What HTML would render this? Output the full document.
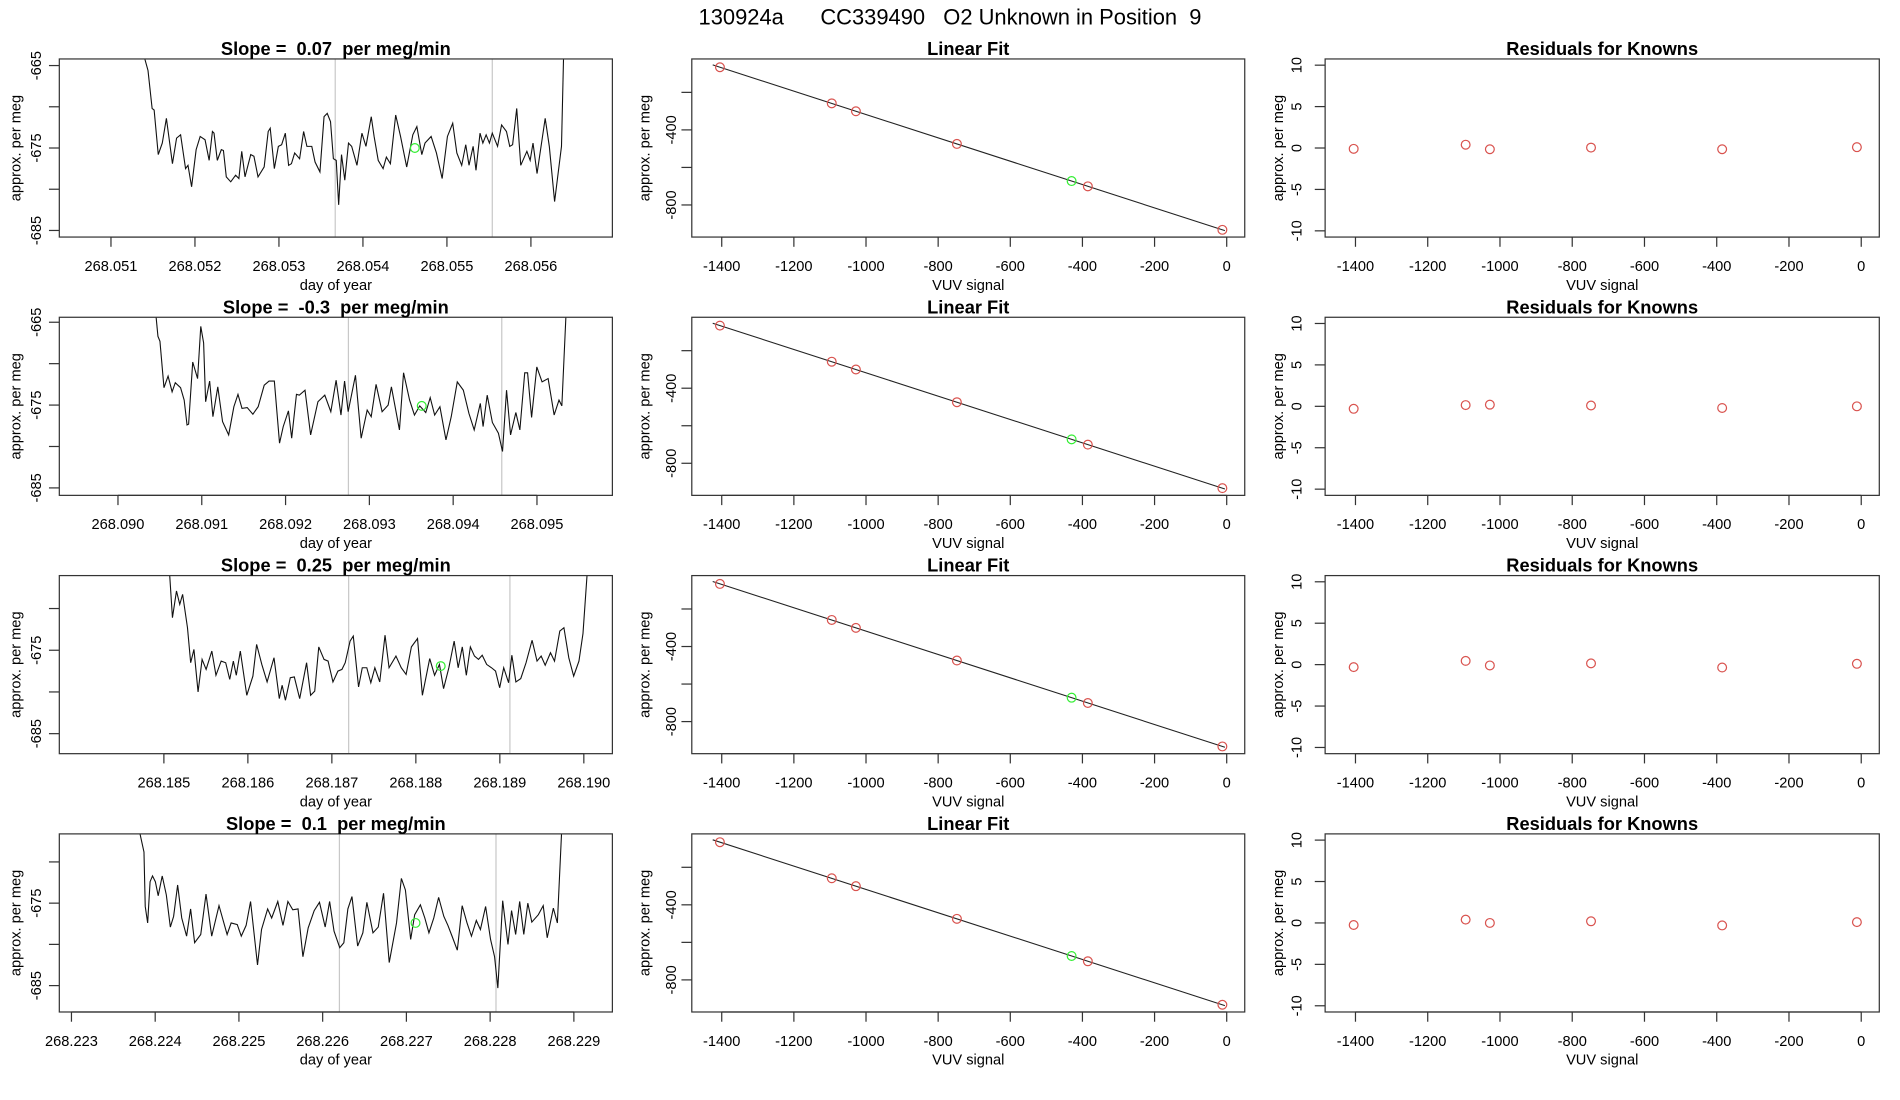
<!DOCTYPE html>
<html><head><meta charset="utf-8"><style>
html,body{margin:0;padding:0;background:#fff;}
svg{display:block;font-family:"Liberation Sans",Arial,sans-serif;}
svg text{white-space:pre;}
</style></head><body>
<svg id="chart" width="1900" height="1100" viewBox="0 0 1560 903" preserveAspectRatio="none" xmlns="http://www.w3.org/2000/svg">
<rect x="0" y="0" width="1560" height="903" fill="#fff"/>
<text x="780" y="20" font-size="18" text-anchor="middle" xml:space="preserve" style="white-space:pre">130924a      CC339490   O2 Unknown in Position  9</text>
</svg>
<script>
// ---------- data ----------
const slopeLabels = ["0.07", "-0.3", "0.25", "0.1"];
const dayBases = [268.051, 268.090, 268.185, 268.223];
const dayTickLabels = [
  ["268.051","268.052","268.053","268.054","268.055","268.056"],
  ["268.090","268.091","268.092","268.093","268.094","268.095"],
  ["268.185","268.186","268.187","268.188","268.189","268.190"],
  ["268.223","268.224","268.225","268.226","268.227","268.228","268.229"]
];
// time offsets in micro-days from dayBases
const t1 = [369,403,441,490,514,563,611,660,732,781,829,888,917,960,1014,1062,1120,1169,1208,1227,1266,1314,1339,1373,1426,1484,1523,1557,1596,1664,1702,1751,1824,1872,1896,1945,1993,2032,2076,2115,2149,2187,2246,2294,2333,2391,2430,2488,2537,2575,2614,2648,2682,2711,2745,2784,2828,2866,2929,2988,3036,3099,3133,3182,3240,3279,3327,3390,3448,3521,3594,3642,3701,3739,3812,3875,3943,4006,4069,4118,4176,4224,4263,4312,4346,4394,4428,4467,4506,4540,4603,4651,4709,4748,4782,4831,4879,4952,4991,5025,5073,5170,5219,5282,5364,5388,5403];
const v1 = [-660,-664.2,-665.6,-670.2,-670.4,-675.8,-674.4,-671.4,-676.9,-673.8,-673.4,-677.5,-677.1,-679.7,-675.2,-673.6,-674.0,-676.5,-673.0,-673.2,-676.5,-675.2,-675.3,-678.5,-679.1,-678.3,-678.7,-675.4,-678.5,-675.8,-676.0,-678.5,-677.3,-673.0,-672.6,-677.5,-674.8,-674.6,-673.2,-677.1,-676.9,-675.6,-676.3,-673.0,-674.8,-674.8,-676.7,-677.9,-671.2,-670.8,-671.8,-676.3,-676.5,-681.9,-675.8,-678.9,-674.4,-674.8,-677.1,-673.2,-674.8,-671.2,-673.6,-676.5,-677.5,-676.1,-676.9,-671.0,-673.6,-677.3,-673.4,-672.4,-675.8,-674.4,-673.6,-675.6,-678.7,-673.6,-672.0,-675.6,-677.1,-674.6,-677.1,-674.8,-677.7,-673.2,-674.4,-673.4,-674.4,-673.2,-674.8,-672.2,-673.0,-674.8,-674.6,-670.2,-677.1,-675.4,-676.5,-674.4,-678.1,-671.4,-674.8,-681.5,-674.8,-664.2,-660];
const t2 = [443,477,501,549,598,646,684,747,790,824,843,892,950,988,1022,1046,1094,1133,1191,1248,1321,1383,1432,1480,1542,1610,1673,1745,1803,1866,1928,1972,2034,2073,2130,2164,2232,2299,2386,2468,2540,2603,2661,2704,2747,2834,2902,2974,3022,3080,3152,3224,3263,3359,3408,3480,3538,3601,3673,3726,3779,3842,3914,3977,4049,4121,4188,4251,4324,4357,4406,4468,4540,4589,4637,4685,4748,4796,4854,4888,4936,4998,5061,5133,5205,5263,5297,5345,5364];
const v2 = [-663.1,-666.7,-667.3,-672.9,-671.5,-673.4,-672.3,-672.9,-674.4,-677.4,-677.3,-669.8,-671.8,-665.5,-667.5,-674.6,-672.1,-676.4,-672.8,-677.0,-678.6,-675.2,-673.7,-675.4,-675.3,-676.1,-675.2,-672.6,-672.1,-672.1,-679.6,-677.6,-675.7,-679.0,-673.7,-673.8,-673.2,-678.6,-674.6,-673.8,-675.8,-672.0,-676.2,-672.1,-675.8,-671.4,-679.0,-675.6,-676.4,-672.5,-675.8,-675.0,-672.8,-678.0,-671.1,-674.4,-676.2,-675.1,-675.9,-674.1,-676.2,-675.2,-679.2,-676.4,-672.2,-673.2,-676.0,-678.0,-674.8,-677.6,-673.8,-677.1,-678.4,-680.6,-673.2,-678.6,-675.9,-678.0,-671.1,-671.1,-676.5,-670.4,-672.2,-671.8,-676.2,-674.4,-675.1,-664.4,-663.1];
const t3 = [68,102,150,189,223,281,319,358,407,455,503,571,620,682,736,784,827,862,910,987,1060,1104,1166,1229,1311,1374,1408,1447,1505,1553,1617,1699,1747,1796,1844,1907,1955,2013,2072,2120,2159,2217,2255,2318,2362,2416,2464,2512,2570,2633,2681,2763,2826,2884,2947,3020,3078,3165,3223,3281,3330,3393,3456,3504,3553,3601,3649,3698,3746,3790,3843,3901,3949,3998,4046,4104,4143,4191,4249,4312,4384,4443,4492,4540,4603,4651,4714,4763,4821,4879,4942,4990,5038,5053];
const v3 = [-665.8,-671.1,-667.9,-669.5,-668.3,-672.3,-676.5,-674.9,-680.0,-676.1,-677.3,-675.1,-678.0,-676.3,-676.5,-678.5,-676.3,-678.0,-675.1,-680.4,-678.1,-674.3,-676.7,-678.8,-675.9,-680.8,-679.2,-681.0,-678.3,-678.2,-680.8,-676.5,-680.4,-679.9,-674.6,-676.1,-676.3,-678.8,-677.5,-677.3,-676.5,-673.9,-673.3,-679.4,-677.1,-677.1,-678.9,-677.1,-678.8,-673.2,-677.1,-675.7,-677.1,-677.9,-674.6,-673.6,-680.4,-676.0,-678.0,-676.7,-679.6,-677.1,-673.9,-677.1,-674.6,-678.0,-674.6,-675.7,-676.1,-675.6,-676.7,-677.1,-677.5,-679.5,-677.1,-678.9,-675.6,-678.8,-678.4,-676.5,-673.8,-676.3,-675.7,-676.8,-675.3,-676.3,-672.7,-672.3,-675.9,-678.1,-676.3,-673.0,-666.05,-665.0];
const t4 = [808,866,881,910,939,968,1002,1036,1084,1133,1181,1220,1268,1317,1375,1423,1471,1544,1607,1675,1762,1859,1907,1980,2028,2086,2139,2222,2270,2343,2391,2464,2526,2585,2643,2706,2764,2827,2899,2962,3030,3083,3136,3204,3253,3301,3350,3418,3480,3528,3601,3664,3727,3795,3882,3940,3988,4051,4099,4167,4220,4269,4327,4385,4447,4496,4545,4608,4666,4724,4777,4835,4884,4946,5005,5053,5092,5150,5213,5256,5305,5353,5402,5450,5498,5576,5634,5682,5755,5803,5852,5862];
const v4 = [-666.1,-668.8,-675.4,-677.4,-672.4,-671.7,-672.4,-674.1,-671.7,-674.0,-677.9,-676.6,-672.8,-676.8,-679.0,-675.7,-679.8,-678.8,-673.9,-679.0,-675.3,-678.8,-677.4,-677.6,-679.0,-677.7,-674.8,-682.5,-678.2,-675.7,-676.8,-674.8,-677.7,-674.8,-675.8,-675.7,-681.5,-678.0,-675.9,-674.9,-677.9,-674.8,-678.4,-680.4,-679.8,-675.7,-674.2,-680.2,-678.6,-674.9,-678.6,-677.9,-673.8,-682.2,-677.4,-672.0,-673.4,-679.4,-676.4,-675.2,-676.8,-678.6,-676.8,-674.3,-676.6,-677.7,-679.0,-680.7,-675.3,-677.4,-679.0,-677.1,-678.2,-675.4,-679.4,-681.5,-685.3,-674.7,-680.0,-675.9,-678.8,-674.8,-678.8,-675.0,-677.3,-676.4,-675.3,-679.2,-675.6,-677.4,-666.7,-666.1];
const seriesT = [t1, t2, t3, t4];
const seriesV = [v1, v2, v3, v4];
const unkT = [3618, 3625, 3296, 4109];
const unkV = [-675.0, -675.1, -676.9, -677.4];
const windowT = [[2670, 4540], [2750, 4580], [2200, 4120], [3200, 5070]];
const yRanges = [[-685.8, -664.2], [-685.9, -664.4], [-687.4, -666.05], [-688.2, -666.6]];
const xRangesOff = [[-615, 5970], [-700, 5900], [-1245, 5340], [-145, 6460]];
const yTickVals = [-665, -670, -675, -680, -685];
const yTickLabeled = [-665, -675, -685];

const knownX = [-1405, -1095, -1028, -748, -385, -12];
const fitIntercept = -940;
const fitSlope = -0.622;
const unknownSignal = -430;
const residuals = [
  [-0.1, 0.4, -0.15, 0.05, -0.15, 0.1],
  [-0.3, 0.15, 0.2, 0.1, -0.2, 0.0],
  [-0.3, 0.45, -0.1, 0.15, -0.35, 0.1],
  [-0.25, 0.4, 0.0, 0.2, -0.3, 0.1]
];
const vuvTicks = [-1400, -1200, -1000, -800, -600, -400, -200, 0];
const fitYTicks = [-200, -400, -600, -800];
const fitYLabeled = [-400, -800];
const resTicks = [-10, -5, 0, 5, 10];

// ---------- drawing ----------
const svg = document.getElementById('chart');
const NS = 'http://www.w3.org/2000/svg';
function mk(tag, attrs, parent) {
  const e = document.createElementNS(NS, tag);
  for (const k in attrs) e.setAttribute(k, attrs[k]);
  (parent || svg).appendChild(e);
  return e;
}
const ROW0 = 48.4, ROWH = 146.2, ROWSTEP = 212.05;
const C1 = [48.7, 502.8], C2 = [568, 1022], C3 = [1088, 1543];
const RED = '#d9534f', GREEN = '#33ee33';

function txt(x, y, s, opts, parent) {
  const e = mk('text', Object.assign({x: x, y: y, 'font-size': 12, 'text-anchor': 'middle', 'dominant-baseline': 'central', fill: '#000'}, opts || {}), parent);
  e.textContent = s;
  return e;
}

function frame(g, L, R, T, B, title, xlabel) {
  const box = mk('rect', {x: L, y: T, width: R - L, height: B - T, fill: 'none', stroke: '#333', 'stroke-width': 1}, g);
  
  
  const tt = txt((L + R) / 2, T - 8.5, title, {'font-size': 15, 'font-weight': 'bold'}, g);
  
  
  const xl = txt((L + R) / 2, B + 40, xlabel, {}, g);
  
  
}
function yLabel(g, x, T, B) {
  const cy = (T + B) / 2;
  const e = txt(x, cy, 'approx. per meg', {transform: 'rotate(-90 ' + x + ' ' + cy + ')'}, g);
  
  
}
function xAxis(g, ticks, labels, sx, B) {
  mk('line', {x1: sx(ticks[0]), x2: sx(ticks[ticks.length - 1]), y1: B, y2: B, stroke: '#333'}, g);
  ticks.forEach((v, i) => {
    const x = sx(v);
    const tk = mk('line', {x1: x, x2: x, y1: B, y2: B + 8, stroke: '#333'}, g);
    
    
    const lb = txt(x, B + 24.5, labels[i], {}, g);
    
    
  });
}
function yAxis(g, ticks, labeled, sy, L, lx) {
  ticks.forEach(v => {
    const y = sy(v);
    const tk = mk('line', {x1: L - 8.5, x2: L, y1: y, y2: y, stroke: '#333'}, g);
    
    
    if (labeled.indexOf(v) >= 0) {
      const lb = txt(lx, y, String(v), {transform: 'rotate(-90 ' + lx + ' ' + y + ')'}, g);
      
      
    }
  });
}
function circle(g, x, y, color, name) {
  const c = mk('circle', {cx: x, cy: y, r: 3.6, fill: 'none', stroke: color, 'stroke-width': 1}, g);
  
  
}

for (let r = 0; r < 4; r++) {
  const T = ROW0 + r * ROWSTEP, B = T + ROWH;

  // ---- time series panel ----
  const g1 = mk('g', {});
  
  
  const xr = xRangesOff[r], yr = yRanges[r];
  const sx = t => C1[0] + (t - xr[0]) / (xr[1] - xr[0]) * (C1[1] - C1[0]);
  const sy = v => B - (v - yr[0]) / (yr[1] - yr[0]) * ROWH;
  const cid = 'clip' + r;
  const cp = mk('clipPath', {id: cid}, g1);
  mk('rect', {x: C1[0], y: T, width: C1[1] - C1[0], height: ROWH}, cp);
  windowT[r].forEach(w => {
    const gl = mk('line', {x1: sx(w), x2: sx(w), y1: T, y2: B, stroke: '#c8c8c8', 'stroke-width': 1}, g1);
    
    
  });
  const ts = seriesT[r], vs = seriesV[r];
  const n = Math.min(ts.length, vs.length);
  let d = '';
  for (let i = 0; i < n; i++) d += (i ? 'L' : 'M') + sx(ts[i]).toFixed(2) + ',' + sy(vs[i]).toFixed(2);
  const pl = mk('path', {d: d, fill: 'none', stroke: '#111', 'stroke-width': 0.9, 'clip-path': 'url(#' + cid + ')'}, g1);
  
  
  circle(g1, sx(unkT[r]), sy(unkV[r]), GREEN, 'unknown-mean-point');
  frame(g1, C1[0], C1[1], T, B, 'Slope =  ' + slopeLabels[r] + '  per meg/min', 'day of year');
  const labs = dayTickLabels[r];
  const tks = labs.map((s, i) => i * 1000);
  xAxis(g1, tks, labs, sx, B);
  yAxis(g1, yTickVals.filter(v => v >= yr[0] && v <= yr[1]), yTickLabeled, sy, C1[0], 30.5);
  yLabel(g1, 13.5, T, B);

  // ---- linear fit panel ----
  const g2 = mk('g', {});
  
  
  const fx = v => C2[0] + (v + 1483) / 1533 * (C2[1] - C2[0]);
  const fy = v => B - (v + 971) / 949 * ROWH;
  const line = mk('line', {x1: fx(-1425), y1: fy(fitIntercept + fitSlope * -1425), x2: fx(-5), y2: fy(fitIntercept + fitSlope * -5), stroke: '#222', 'stroke-width': 0.9}, g2);
  
  
  knownX.forEach((x, i) => circle(g2, fx(x), fy(fitIntercept + fitSlope * x + residuals[r][i]), RED, 'known-point'));
  circle(g2, fx(unknownSignal), fy(fitIntercept + fitSlope * unknownSignal), GREEN, 'unknown-point');
  frame(g2, C2[0], C2[1], T, B, 'Linear Fit', 'VUV signal');
  xAxis(g2, vuvTicks, vuvTicks.map(String), fx, B);
  yAxis(g2, fitYTicks, fitYLabeled, fy, C2[0], 551.7);
  yLabel(g2, 530, T, B);

  // ---- residuals panel ----
  const g3 = mk('g', {});
  
  
  const rx = v => C3[0] + (v + 1484) / 1534 * (C3[1] - C3[0]);
  const ry = v => B - (v + 10.75) / 21.5 * ROWH;
  knownX.forEach((x, i) => circle(g3, rx(x), ry(residuals[r][i]), RED, 'residual-point'));
  frame(g3, C3[0], C3[1], T, B, 'Residuals for Knowns', 'VUV signal');
  xAxis(g3, vuvTicks, vuvTicks.map(String), rx, B);
  yAxis(g3, resTicks, resTicks, ry, C3[0], 1065.4);
  yLabel(g3, 1050, T, B);
}
</script>
</body></html>
